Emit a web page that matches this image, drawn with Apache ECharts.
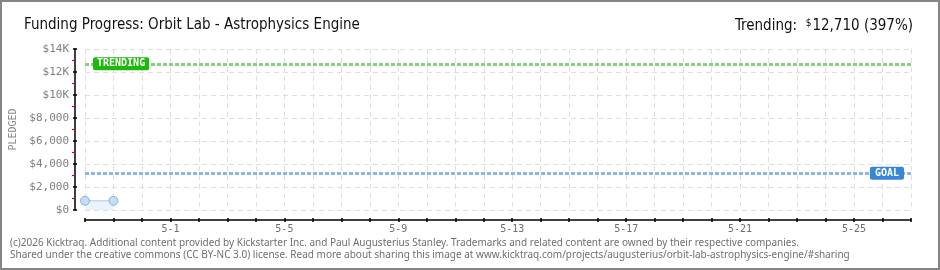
<!DOCTYPE html>
<html>
<head>
<meta charset="utf-8">
<script src="https://cdn.jsdelivr.net/npm/echarts@6/dist/echarts.min.js"></script>
<style>
html,body{margin:0;padding:0;background:#fff;}
#wrap{position:relative;width:940px;height:270px;}
#chart{width:940px;height:270px;}
#border{position:absolute;left:0;top:0;width:940px;height:270px;box-sizing:border-box;border:2px solid #858585;pointer-events:none;}
</style>
</head>
<body>
<div id="wrap"><div id="chart"></div><div id="border"></div></div>
<script>
const titleText = 'Funding Progress: Orbit Lab - Astrophysics Engine';
const trendingValue = 12710;
const trendingPct = 397;
const goalValue = 3200;
const days = ['4-28','4-29','4-30','5-1','5-2','5-3','5-4','5-5','5-6','5-7','5-8','5-9','5-10','5-11','5-12','5-13','5-14','5-15','5-16','5-17','5-18','5-19','5-20','5-21','5-22','5-23','5-24','5-25','5-26','5-27'];
const pledged = [800, 800];
const yTicks = [0, 2000, 4000, 6000, 8000, 10000, 12000, 14000];
const footer1 = '(c)2026 Kicktraq. Additional content provided by Kickstarter Inc. and Paul Augusterius Stanley. Trademarks and related content are owned by their respective companies.';
const footer2 = 'Shared under the creative commons (CC BY-NC 3.0) license. Read more about sharing this image at www.kicktraq.com/projects/augusterius/orbit-lab-astrophysics-engine/#sharing';

const mono = 'DejaVu Sans Mono';
const cond = '"DejaVu Sans Condensed", "DejaVu Sans", sans-serif';
function yFmt(v){
  if (v >= 10000) return '$' + (v/1000) + 'K';
  return '$' + v.toLocaleString('en-US');
}
const labelIdx = (i) => i >= 3 && (i - 3) % 4 === 0;

const chart = echarts.init(document.getElementById('chart'), null, {renderer:'canvas'});
const baseX = {
  type:'category', data: days, boundaryGap:false, position:'bottom', offset:10,
  axisLine:{show:true, onZero:false, lineStyle:{color:'#000', width:1.5}},
  axisTick:{show:true, interval:0, length:2, lineStyle:{color:'#000', width:1.5}},
  axisLabel:{show:true, interval:(i)=>labelIdx(i), color:'#6e6e6e', fontFamily:mono, fontSize:10, margin:4},
  splitLine:{show:true, interval:0, lineStyle:{color:'#dedede', type:[5,4], width:1}}
};
const innerX = {
  type:'category', data: days, boundaryGap:false, position:'bottom', offset:10,
  axisLine:{show:false, onZero:false},
  axisTick:{show:true, inside:true, interval:0, length:2, lineStyle:{color:'#000', width:1.5}},
  axisLabel:{show:false}, splitLine:{show:false}
};
const baseY = {
  type:'value', min:0, max:14000, interval:2000, position:'left', offset:10,
  name:'PLEDGED', nameLocation:'middle', nameGap:54,
  nameTextStyle:{color:'#8a8a8a', fontFamily:mono, fontSize:10},
  axisLine:{show:true, onZero:false, lineStyle:{color:'#000', width:1.5}},
  axisTick:{show:true, length:2, lineStyle:{color:'#000', width:1.5}},
  minorTick:{show:true, splitNumber:2, length:3, lineStyle:{color:'#e00000', width:1.2}},
  axisLabel:{color:'#808080', fontFamily:mono, fontSize:11, margin:6, formatter:yFmt},
  splitLine:{show:true, lineStyle:{color:'#dedede', type:[5,4], width:1}}
};
const innerY = {
  type:'value', min:0, max:14000, interval:2000, position:'left', offset:10,
  axisLine:{show:false, onZero:false},
  axisTick:{show:true, inside:true, length:2, lineStyle:{color:'#000', width:1.5}},
  axisLabel:{show:false}, splitLine:{show:false}
};

chart.setOption({
  animation:false,
  backgroundColor:'#fff',
  title:[
    {text:titleText, left:19, top:13, textStyle:{fontFamily:cond, fontWeight:'normal', fontSize:15, color:'#111'}},
    {text:'{a|Trending:  }{s|$}{a|' + trendingValue.toLocaleString('en-US') + ' (' + trendingPct + '%)}', right:22, top:13,
     textStyle:{fontWeight:'normal', rich:{a:{fontFamily:cond, fontWeight:'normal', fontSize:15, color:'#111'}, s:{fontFamily:cond, fontWeight:'normal', fontSize:10, color:'#111', verticalAlign:'top', padding:[0,1,6,0]}}}}
  ],
  grid:{left:85, right:29, top:49, bottom:60},
  xAxis:[baseX, innerX],
  yAxis:[baseY, innerY],
  graphic:[
    {type:'text', left:10, top:238, style:{text:footer1, fill:'#6f6f6f', font:'10px "Noto Sans"'}},
    {type:'text', left:10, top:250.5, style:{text:footer2, fill:'#6f6f6f', font:'10px "Noto Sans"'}}
  ],
  series:[{
    type:'line', data:pledged, xAxisIndex:0, yAxisIndex:0,
    symbol:'circle', symbolSize:9,
    lineStyle:{color:'#a8c8f0', width:1},
    itemStyle:{color:'#c6dcf6', borderColor:'#8cb0de', borderWidth:1},
    areaStyle:{color:'#eaf2fc', opacity:1},
    markLine:{
      silent:true, symbol:['none','none'],
      data:[
        {yAxis:trendingValue, lineStyle:{color:'#86d086', width:3, type:[4,2]},
         label:{show:true, position:'insideStart', distance:8, formatter:'TRENDING', color:'#fff', fontFamily:mono, fontWeight:'bold', fontSize:10, backgroundColor:'#1fb80f', padding:[2,4,1,4], borderRadius:2}},
        {yAxis:goalValue, lineStyle:{color:'#8ab6ea', width:3, type:[4,2]},
         label:{show:true, position:'insideEnd', distance:7, formatter:'GOAL', color:'#fff', fontFamily:mono, fontWeight:'bold', fontSize:10, backgroundColor:'#3a86d6', padding:[2,5,1,5], borderRadius:2}}
      ]
    }
  }]
});
</script>
</body>
</html>
